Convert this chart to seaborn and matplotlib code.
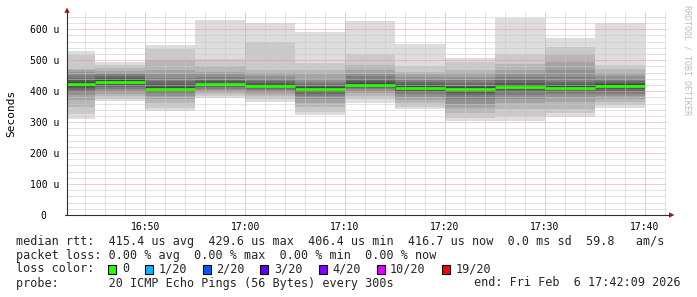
import numpy as np
import pandas as pd
import matplotlib
matplotlib.use("Agg")
import matplotlib.pyplot as plt
import matplotlib.dates as mdates
import matplotlib.ticker as mticker
from matplotlib.lines import Line2D
from matplotlib.patches import Polygon, Rectangle
import seaborn as sns

# ---------------- data ----------------
day = "2026-02-06"
block_starts = ["16:40", "16:45", "16:50", "16:55", "17:00", "17:05",
                "17:10", "17:15", "17:20", "17:25", "17:30", "17:35"]
view_start = "16:42:09"
view_end = "17:42:09"

# 20 sorted ping RTTs (microseconds) per 5-minute step
pings_1640 = [311, 327, 349, 370, 387, 397, 404, 410, 416, 420, 425, 431, 437, 444, 451, 462, 468, 473, 518, 529]
pings_1645 = [369, 375, 383, 392, 400, 408, 413, 418, 423, 427, 432, 437, 442, 448, 455, 459, 464, 475, 484, 494]
pings_1650 = [335, 347, 362, 375, 385, 393, 398, 402, 405, 407, 410, 415, 422, 432, 442, 455, 467, 500, 537, 549]
pings_1655 = [379, 385, 392, 398, 403, 408, 412, 416, 419, 422, 425, 428, 432, 437, 446, 455, 462, 480, 503, 631]
pings_1700 = [365, 376, 386, 392, 398, 403, 408, 411, 414, 416, 418, 421, 426, 433, 440, 449, 458, 468, 558, 619]
pings_1705 = [323, 333, 350, 362, 375, 385, 392, 398, 402, 405, 409, 413, 418, 424, 430, 440, 455, 470, 490, 592]
pings_1710 = [363, 374, 384, 393, 400, 406, 410, 414, 417, 419, 422, 426, 432, 440, 450, 457, 470, 484, 520, 627]
pings_1715 = [342, 350, 361, 372, 382, 390, 396, 401, 405, 408, 412, 416, 422, 430, 436, 446, 455, 463, 481, 552]
pings_1720 = [303, 313, 330, 345, 360, 375, 388, 395, 400, 404, 408, 412, 418, 425, 435, 447, 458, 469, 495, 507]
pings_1725 = [305, 320, 343, 362, 376, 388, 397, 404, 410, 413, 417, 421, 428, 436, 445, 455, 470, 489, 521, 638]
pings_1730 = [317, 330, 343, 365, 381, 392, 398, 403, 407, 409, 412, 416, 422, 430, 446, 467, 494, 520, 543, 573]
pings_1735 = [345, 354, 365, 375, 385, 392, 400, 406, 411, 415, 419, 423, 428, 434, 441, 450, 460, 473, 484, 620]

y_ticks = [0, 100, 200, 300, 400, 500, 600]
y_tick_labels = ["0  ", "100 u", "200 u", "300 u", "400 u", "500 u", "600 u"]
x_tick_labels = ["16:50", "17:00", "17:10", "17:20", "17:30", "17:40"]

loss_labels = ["0", "1/20", "2/20", "3/20", "4/20", "10/20", "19/20"]
loss_colors = ["#26ff00", "#00b8ff", "#0059ff", "#5e00ff", "#7e00ff", "#dd00ff", "#ff0000"]

legend_rtt = "median rtt:  415.4 us avg  429.6 us max  406.4 us min  416.7 us now  0.0 ms sd  59.8   am/s"
legend_loss = "packet loss: 0.00 % avg  0.00 % max  0.00 % min  0.00 % now"
legend_probe = "probe:       20 ICMP Echo Pings (56 Bytes) every 300s"
legend_end = "end: Fri Feb  6 17:42:09 2026"

# ---------------- figure ----------------
sns.set_theme(style="white")
plt.rcParams["font.family"] = ["DejaVu Sans Mono", "DejaVu Sans"]

W, H = 697, 297
fig = plt.figure(figsize=(W / 100, H / 100), dpi=100)
fig.patch.set_facecolor("white")

def fx(px):
    return px / W

def fy(py):
    return 1 - py / H

X0, X1, Y0, Y1 = 67, 666, 215, 12
ax = fig.add_axes([fx(X0), fy(Y0), fx(X1) - fx(X0), fy(Y1) - fy(Y0)])
ax.set_facecolor("white")

all_pings = np.array([pings_1640, pings_1645, pings_1650, pings_1655, pings_1700, pings_1705,
                      pings_1710, pings_1715, pings_1720, pings_1725, pings_1730, pings_1735], dtype=float)
all_pings.sort(axis=1)
starts = pd.to_datetime([f"{day} {s}" for s in block_starts])
edges = list(starts) + [starts[-1] + pd.Timedelta(minutes=5)]
xs = mdates.date2num(pd.DatetimeIndex(edges).to_pydatetime())

half = all_pings.shape[1] // 2
for i in range(half):
    ibot = i + 1
    c = int(190 / half * (half - ibot)) + 50
    col = "#%02x%02x%02x" % (c, c, c)
    lo = np.append(all_pings[:, i], all_pings[-1, i])
    hi = np.append(all_pings[:, -1 - i], all_pings[-1, -1 - i])
    ax.fill_between(xs, lo, hi, step="post", color=col, lw=0, zorder=1)

median = (all_pings[:, half - 1] + all_pings[:, half]) / 2
ax.hlines(median, xs[:-1], xs[1:], colors=loss_colors[0], lw=2.0, zorder=3, capstyle="butt")

t0 = mdates.date2num(pd.Timestamp(f"{day} {view_start}").to_pydatetime())
t1 = mdates.date2num(pd.Timestamp(f"{day} {view_end}").to_pydatetime())
ax.set_xlim(t0, t1)
ax.set_ylim(0, (Y0 - Y1) * 600 / 185.7)

ax.set_yticks(y_ticks)
ax.set_yticklabels(y_tick_labels)
ax.yaxis.set_minor_locator(mticker.MultipleLocator(20))
xt = [mdates.date2num(pd.Timestamp(f"{day} {s}").to_pydatetime()) for s in x_tick_labels]
ax.set_xticks(xt)
ax.set_xticklabels(x_tick_labels)
ax.xaxis.set_minor_locator(mdates.MinuteLocator(byminute=range(0, 60, 2)))

ax.set_axisbelow(False)
ax.grid(which="minor", color="#c8c8c8", linestyle=(0, (1, 1)), lw=0.72)
ax.grid(which="major", color="#e89595", linestyle=(0, (1, 1)), lw=0.72)
for gl in ax.get_xgridlines() + ax.get_ygridlines():
    gl.set_zorder(2)

ax.tick_params(axis="y", which="both", length=0, pad=5.8, labelsize=7, colors="#000000")
ax.tick_params(axis="x", which="major", length=2.2, width=0.72, direction="out", pad=2.5,
               labelsize=7, colors="#000000")
ax.tick_params(axis="x", which="minor", length=0)
for s in ax.spines.values():
    s.set_visible(False)

# axes lines and arrows (figure pixel coordinates)
axis_col = "#303030"
arrow_col = "#a01818"
fig.add_artist(Line2D([fx(X0), fx(X0)], [fy(Y0), fy(11)], color=axis_col, lw=0.8))
fig.add_artist(Line2D([fx(X0 - 2), fx(670)], [fy(Y0), fy(Y0)], color=axis_col, lw=0.8))
fig.add_artist(Polygon([[fx(67), fy(7.5)], [fx(64.3), fy(12.8)], [fx(69.7), fy(12.8)]],
                       closed=True, color=arrow_col, lw=0))
fig.add_artist(Polygon([[fx(674.5), fy(215)], [fx(669), fy(212.3)], [fx(669), fy(217.7)]],
                       closed=True, color=arrow_col, lw=0))

fig.text(fx(11), fy(113), "Seconds", rotation=90, ha="center", va="center", fontsize=8, color="#000000")
fig.text(fx(687.5), fy(5), "RRDTOOL / TOBI OETIKER", rotation=270, ha="center", va="top",
         fontsize=6, color="#bdbdbd")

leg_fs = 8.5
fig.text(fx(16), fy(241), legend_rtt, ha="left", va="center", fontsize=leg_fs)
fig.text(fx(16), fy(255), legend_loss, ha="left", va="center", fontsize=leg_fs)
fig.text(fx(16), fy(269), "loss color:", ha="left", va="center", fontsize=leg_fs)
sq_x = [108, 145, 203, 260, 319, 377, 442]
lab_x = [122, 159, 216, 274, 332, 390, 456]
for lab, colr, sx, lx in zip(loss_labels, loss_colors, sq_x, lab_x):
    fig.add_artist(Rectangle((fx(sx), fy(273.5)), fx(8), 9 / H, facecolor=colr,
                             edgecolor="#000000", lw=0.8))
    fig.text(fx(lx), fy(269), lab, ha="left", va="center", fontsize=leg_fs)
fig.text(fx(16), fy(283), legend_probe, ha="left", va="center", fontsize=leg_fs)
fig.text(fx(681), fy(283), legend_end, ha="right", va="center", fontsize=leg_fs)

fig.savefig("out.png", dpi=100, facecolor="white")
